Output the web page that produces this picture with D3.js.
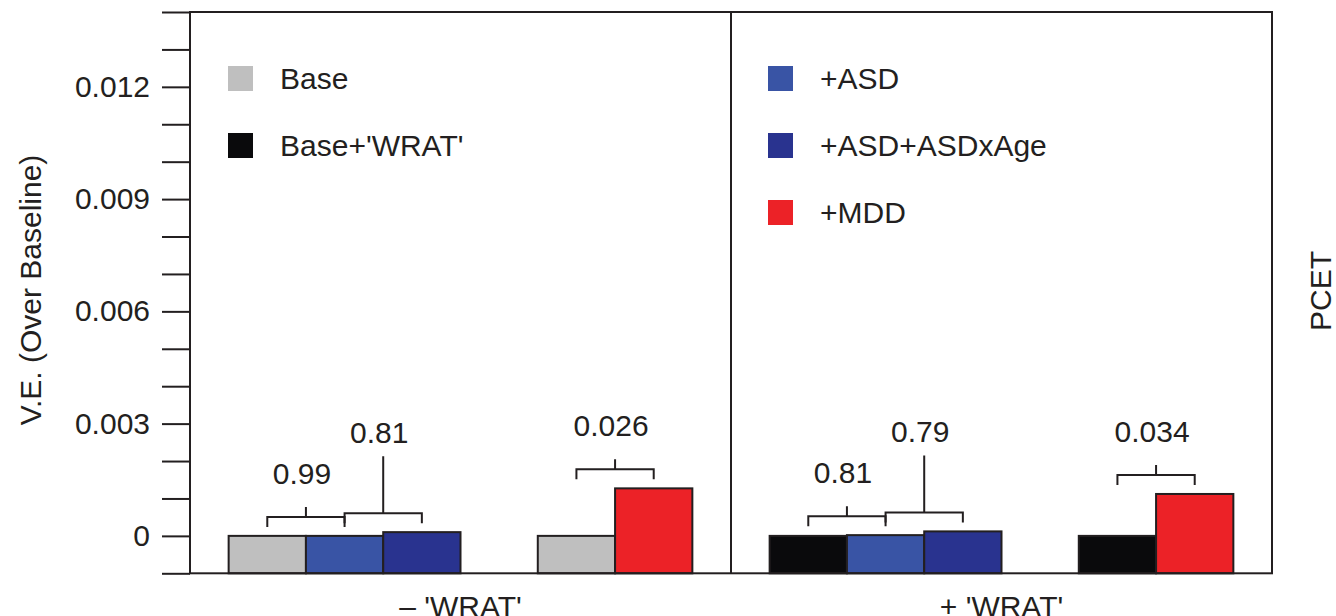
<!DOCTYPE html>
<html>
<head>
<meta charset="utf-8">
<script src="https://cdn.jsdelivr.net/npm/d3@7"></script>
<style>
  body { margin: 0; background: #fff; }
  text { font-family: "Liberation Sans", Arial, sans-serif; fill: #231f20; }
</style>
</head>
<body>
<script>
    // chart values
    var panels = ["\u2013 'WRAT'", "+ 'WRAT'"];
    var slots = ["base", "asd", "asdAge", "gap", "base2", "mdd"];
    var baseNames = ["Base", "Base+'WRAT'"];
    var baseColors = ["#bfbfbf", "#0a0a0c"];
    var addNames = ["+ASD", "+ASD+ASDxAge", "+MDD"];
    var addColors = ["#3954a5", "#29338f", "#ec2227"];
    var leftValues = [0, 0, 0.0001, null, 0, 0.00127];
    var rightValues = [0, 0.00002, 0.00012, null, 0, 0.00112];
    var pairs = [["base", "asd"], ["asd", "asdAge"], ["base2", "mdd"]];
    var leftP = ["0.99", "0.81", "0.026"];
    var rightP = ["0.81", "0.79", "0.034"];
    var tallStem = [false, true, false];
    var yTicks = d3.range(-1, 15).map(function(d) { return d / 1000; });
    var yLabels = [0, 0.003, 0.006, 0.009, 0.012];

    var svgWidth = 1336, svgHeight = 616,
        plotLeft = 190, plotRight = 1272, plotTop = 12, plotBottom = 573.3;
    var panelW = (plotRight - plotLeft) / panels.length;
    var ink = "#231f20";

    var svg = d3.select("body").append("svg")
        .attr("width", svgWidth)
        .attr("height", svgHeight);

    var y = d3.scaleLinear().domain([-0.001, 0.014]).range([plotBottom, plotTop]);
    var x = d3.scaleBand().domain(slots).range([0, panelW])
        .paddingInner(0).paddingOuter(0.5);

    function slotColor(slot, p) {
        if (slot == "base" || slot == "base2") return baseColors[p];
        if (slot == "asd") return addColors[0];
        if (slot == "asdAge") return addColors[1];
        return addColors[2];
    }

    [leftValues, rightValues].forEach(function(vals, p) {
        var g = svg.append("g").attr("transform", "translate(" + (plotLeft + p * panelW) + ",0)");
        var rows = slots.map(function(s, i) { return {slot: s, v: vals[i]}; })
            .filter(function(d) { return d.v !== null; });

        g.selectAll("rect.bar").data(rows).enter().append("rect")
            .attr("class", "bar")
            .attr("x", function(d) { return x(d.slot); })
            .attr("width", x.bandwidth())
            .attr("y", function(d) { return y(d.v); })
            .attr("height", function(d) { return y(-0.001) - y(d.v); })
            .attr("fill", function(d) { return slotColor(d.slot, p); })
            .attr("stroke", ink)
            .attr("stroke-width", 2);

        // p-value brackets
        var labels = p == 0 ? leftP : rightP;
        pairs.forEach(function(pr, k) {
            var a = vals[slots.indexOf(pr[0])], b = vals[slots.indexOf(pr[1])];
            var xa = x(pr[0]) + x.bandwidth() / 2, xb = x(pr[1]) + x.bandwidth() / 2;
            var xm = (xa + xb) / 2;
            var hy = y(Math.max(a, b)) - 19;
            var stem = tallStem[k] ? 57 : 10;
            g.append("path")
                .attr("d", "M" + xa + "," + (hy + 10) + "V" + hy + "H" + xb + "V" + (hy + 10) +
                    "M" + xm + "," + hy + "V" + (hy - stem))
                .attr("fill", "none")
                .attr("stroke", ink)
                .attr("stroke-width", 2);
            g.append("text")
                .attr("x", xm - 4)
                .attr("y", hy - stem - (tallStem[k] ? 13 : 23))
                .attr("text-anchor", "middle")
                .style("font-size", "30px")
                .text(labels[k]);
        });

        g.append("text")
            .attr("x", panelW / 2)
            .attr("y", 617)
            .attr("text-anchor", "middle")
            .style("font-size", "30px")
            .text(panels[p]);
    });

    // frame + divider
    svg.append("rect")
        .attr("x", plotLeft).attr("y", plotTop)
        .attr("width", plotRight - plotLeft).attr("height", plotBottom - plotTop)
        .attr("fill", "none").attr("stroke", ink).attr("stroke-width", 2);
    svg.append("line")
        .attr("x1", plotLeft + panelW).attr("x2", plotLeft + panelW)
        .attr("y1", plotTop).attr("y2", plotBottom)
        .attr("stroke", ink).attr("stroke-width", 2);

    var yAxis = d3.axisLeft(y)
        .tickValues(yTicks)
        .tickSize(28)
        .tickPadding(12)
        .tickFormat(function(d) {
            var show = yLabels.some(function(v) { return Math.abs(v - d) < 1e-9; });
            if (!show) return "";
            return Math.abs(d) < 1e-9 ? "0" : d3.format(".3f")(d);
        });
    var ax = svg.append("g").attr("transform", "translate(" + plotLeft + ",0)").call(yAxis);
    ax.select(".domain").remove();
    ax.selectAll("line").attr("stroke", ink).attr("stroke-width", 2);
    ax.selectAll("text").style("font-size", "30px").attr("fill", ink)
        .style("font-family", '"Liberation Sans", Arial, sans-serif');

    svg.append("text")
        .attr("transform", "translate(41," + 290 + ") rotate(-90)")
        .attr("text-anchor", "middle")
        .style("font-size", "30px")
        .text("V.E. (Over Baseline)");

    svg.append("text")
        .attr("transform", "translate(1331," + 291 + ") rotate(-90)")
        .attr("text-anchor", "middle")
        .style("font-size", "30px")
        .text("PCET");

    // legends
    var leg1 = baseNames.map(function(n, i) { return {name: n, color: baseColors[i]}; });
    var leg2 = addNames.map(function(n, i) { return {name: n, color: addColors[i]}; });
    [[leg1, 228], [leg2, 768]].forEach(function(L) {
        var lg = svg.append("g").attr("transform", "translate(" + L[1] + ",66)");
        var item = lg.selectAll("g").data(L[0]).enter().append("g")
            .attr("transform", function(d, i) { return "translate(0," + (i * 67) + ")"; });
        item.append("rect").attr("width", 25).attr("height", 25)
            .attr("fill", function(d) { return d.color; });
        item.append("text").attr("x", 52).attr("y", 23)
            .style("font-size", "30px")
            .text(function(d) { return d.name; });
    });
</script>
</body>
</html>
